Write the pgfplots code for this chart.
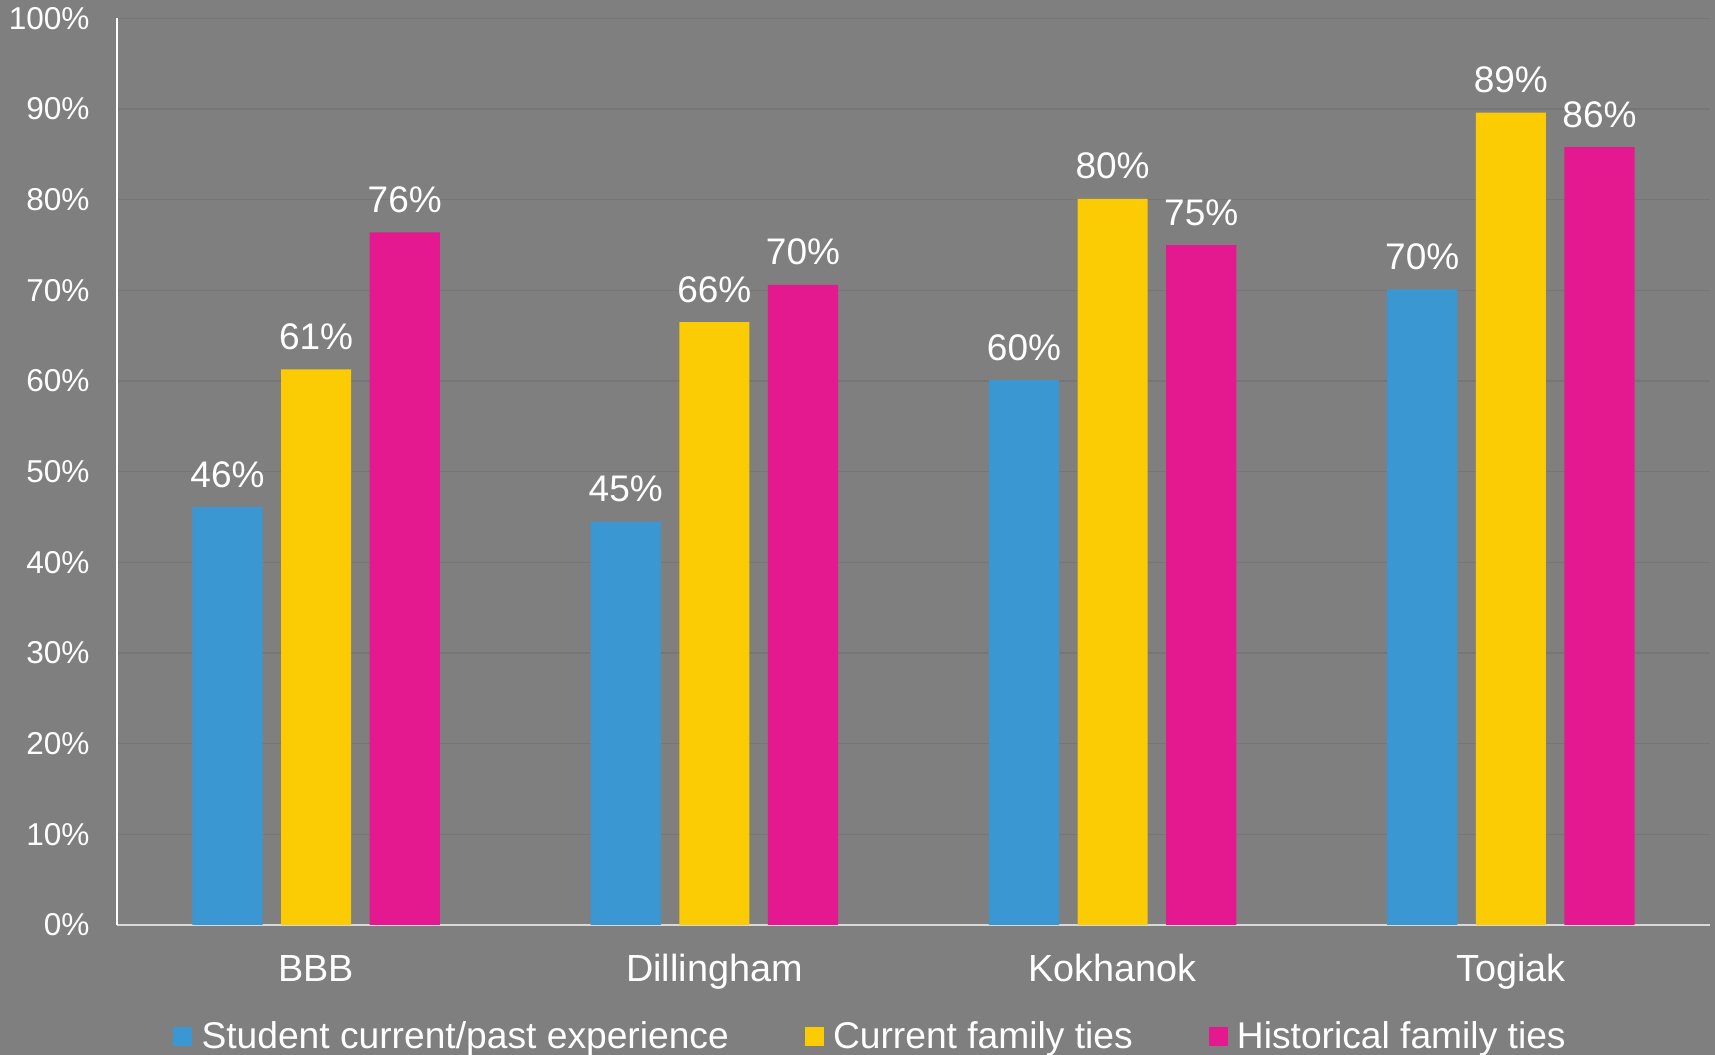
\documentclass[border=0pt]{standalone}
\usepackage{pgfplots}
\pgfplotsset{compat=1.18}
\usepackage{pgfplotstable}
\usepackage{fontspec}
\setmainfont{Liberation Sans}

\definecolor{bg}{HTML}{7F7F7F}
\definecolor{gridc}{HTML}{767676}
\definecolor{cblue}{HTML}{3A97D2}
\definecolor{cyellow}{HTML}{FBCB04}
\definecolor{cpink}{HTML}{E5198F}

% values per town: BBB, Dillingham, Kokhanok, Togiak
\pgfplotstableread{
x y lab
0 46.1 46
1 44.5 45
2 60.1 60
3 70.1 70
}\student
\pgfplotstableread{
x y lab
0 61.3 61
1 66.5 66
2 80.1 80
3 89.6 89
}\current
\pgfplotstableread{
x y lab
0 76.4 76
1 70.6 70
2 75.0 75
3 85.8 86
}\historical

\begin{document}
\begin{tikzpicture}
\fill[bg] (0,0) rectangle (857.5pt,527.5pt);
\useasboundingbox (0,0) rectangle (857.5pt,527.5pt);
\begin{axis}[
    at={(58.5pt,65pt)}, anchor=south west,
    scale only axis, width=796.5pt, height=453.3pt,
    ymin=0, ymax=100, xmin=-0.5, xmax=3.5,
    ytick={0,10,...,100},
    yticklabel={\pgfmathprintnumber{\tick}\%},
    xtick={0,1,2,3},
    xticklabels={BBB,Dillingham,Kokhanok,Togiak},
    major tick length=0pt,
    axis x line*=bottom, axis y line*=left,
    x axis line style={-, draw=white!85!black, line width=0.8pt},
    y axis line style={-, draw=white, line width=0.7pt},
    ymajorgrids, grid style={gridc, line width=0.75pt},
    /pgf/number format/assume math mode=true,
    yticklabel style={font=\fontsize{15.8}{18}\selectfont, text=white,
        anchor=east, inner sep=0pt, xshift=-13.5pt},
    xticklabel style={font=\fontsize{18.9}{22}\selectfont, text=white,
        anchor=base, inner sep=0pt, yshift=-28.3pt},
    ybar, bar width=0.176,
    point meta=explicit symbolic,
    nodes near coords={\pgfplotspointmeta\%},
    nodes near coords style={font=\fontsize{18.5}{22}\selectfont, text=white,
        anchor=base, inner sep=0pt, yshift=10pt},
    legend columns=3,
    legend style={at={(0.5,0)}, anchor=center, xshift=-21pt, yshift=-56pt,
        draw=none, fill=none, text=white,
        font=\fontsize{18.6}{22}\selectfont,
        /tikz/every even column/.append style={column sep=36pt},
        /tikz/every odd column/.append style={column sep=2.6pt}},
    legend image code/.code={\fill (0pt,-4.75pt) rectangle (9.5pt,4.75pt);},
]
\addplot[fill=cblue, draw=none, bar shift=-0.2225] table[x=x, y=y, meta=lab]{\student};
\addplot[fill=cyellow, draw=none, bar shift=0] table[x=x, y=y, meta=lab]{\current};
\addplot[fill=cpink, draw=none, bar shift=0.2225] table[x=x, y=y, meta=lab]{\historical};
\legend{Student current/past experience, Current family ties, Historical family ties}
\end{axis}
\end{tikzpicture}
\end{document}
